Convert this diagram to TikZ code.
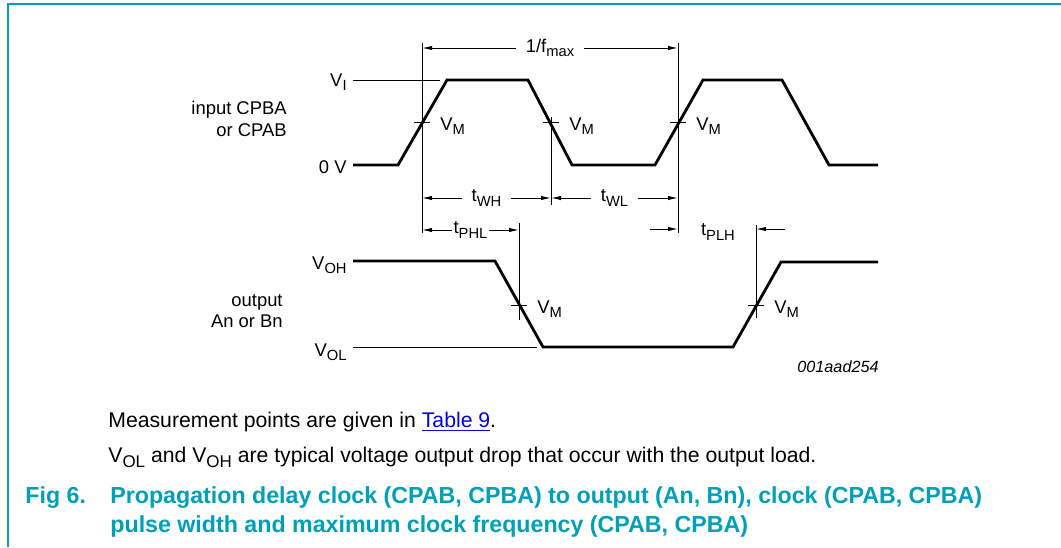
\documentclass[tikz,border=0pt]{standalone}
\usepackage{fontspec}
\setmainfont{Liberation Sans}
\usepackage{tikz}
\usetikzlibrary{calc,arrows.meta}
\definecolor{figcyan}{RGB}{0,160,186}
\definecolor{linkblue}{RGB}{0,0,230}
\newcommand{\lo}[1]{\raisebox{-0.45ex}{\scalebox{0.8}{#1}}}

\begin{document}
\begin{tikzpicture}[x=0.5pt,y=-0.5pt,
    wave/.style={line width=1.4pt},
    guide/.style={line width=0.5pt},
    dim/.style={line width=0.5pt,{Latex[length=5pt,width=2.2pt]}-{Latex[length=5pt,width=2.2pt]}},
    tip/.style={line width=0.5pt,-{Latex[length=5pt,width=2.2pt]}},
    lbl/.style={font=\fontsize{9.2}{11}\selectfont,inner sep=0pt},
    body/.style={font=\fontsize{10.6}{12}\selectfont,inner sep=0pt,anchor=base west},
    figcap/.style={font=\bfseries\fontsize{11.6}{13}\selectfont,text=figcyan,inner sep=0pt,anchor=base west}]
  \useasboundingbox (0,0) rectangle (1061,547);
  \draw[figcyan,line width=1pt] (8,547) -- (8,4) -- (1061,4);
  \draw[wave] (353,165) -- (398,165) -- (447,80) -- (528,80) -- (572,165) -- (655,165)
              -- (703,80) -- (782,80) -- (829,165) -- (878,165);
  \draw[guide] (353,80) -- (440,80);
  \draw[wave] (353,261) -- (495,261) -- (543,347) -- (733,347) -- (781,262) -- (878,262);
  \draw[guide] (353,347) -- (537,347);
  \coordinate (m1) at (422,122);
  \coordinate (m2) at (551,122);
  \coordinate (m3) at (678,122);
  \coordinate (m4) at (519,305);
  \coordinate (m5) at (756,305);
  \foreach \m in {m1,m2,m3,m4,m5}{
    \draw[guide] ([xshift=-4pt]\m) -- ([xshift=4pt]\m);
    \node[lbl,anchor=base west](vm-\m) at ([xshift=9pt,yshift=-4pt]\m) {V\lo{M}};
  }
  \draw[guide] (422,43) -- (422,233);
  \draw[guide] (678,43) -- (678,233);
  \draw[guide] (551,117) -- (551,205);
  \draw[guide] (519,223) -- (519,320);
  \draw[guide] (756,225) -- (756,318);
  \node[lbl,anchor=base east](vi) at (347,86) {V\lo{I}};
  \node[lbl,anchor=base east](zero) at (347,173) {0 V};
  \node[lbl,anchor=base east](in1) at (287,114) {input CPBA};
  \node[lbl,anchor=base east](in2) at (287,136) {or CPAB};
  \node[lbl,anchor=base east](voh) at (347,269) {V\lo{OH}};
  \node[lbl,anchor=base east](vol) at (347,356) {V\lo{OL}};
  \node[lbl,anchor=base east](out1) at (283,306) {output};
  \node[lbl,anchor=base east](out2) at (283,327) {An or Bn};
  \coordinate (f1) at (422,48);
  \coordinate (f2) at (678,48);
  \draw[dim] (f1) -- node[lbl,fill=white,inner xsep=5pt,inner ysep=3pt](fmax) {1/f\lo{max}} (f2);
  \coordinate (w1) at (422,198);
  \coordinate (w2) at (551,198);
  \coordinate (w3) at (678,198);
  \draw[dim] (w1) -- node[lbl,fill=white,inner xsep=5pt,inner ysep=3pt](twh) {t\lo{WH}} (w2);
  \draw[dim] (w2) -- node[lbl,fill=white,inner xsep=5pt,inner ysep=3pt](twl) {t\lo{WL}} (w3);
  \coordinate (p1) at (422,230);
  \coordinate (p2) at (519,230);
  \draw[dim] (p1) -- node[lbl,fill=white,inner xsep=1pt,inner ysep=3pt](tphl) {t\lo{PHL}} (p2);
  \coordinate (q0) at (650,229);
  \coordinate (q1) at (678,229);
  \coordinate (q2) at (756,229);
  \coordinate (q3) at (785,229);
  \draw[tip] (q0) -- (q1);
  \draw[tip] (q3) -- (q2);
  \node[lbl](tplh) at (718,232) {t\lo{PLH}};
  \node[lbl,font=\itshape\fontsize{8.1}{9}\selectfont](code) at (838,367) {001aad254};
  \node[body](meas) at (108,427) {Measurement points are given in \textcolor{linkblue}{\underline{Table 9}}.};
  \node[body](note) at (108,462) {V\lo{OL} and V\lo{OH} are typical voltage output drop that occur with the output load.};
  \node[figcap](fig) at (25,503) {Fig 6.};
  \node[figcap](cap1) at (110,503) {Propagation delay clock (CPAB, CPBA) to output (An, Bn), clock (CPAB, CPBA)};
  \node[figcap](cap2) at (110,532) {pulse width and maximum clock frequency (CPAB, CPBA)};
\end{tikzpicture}
\end{document}
